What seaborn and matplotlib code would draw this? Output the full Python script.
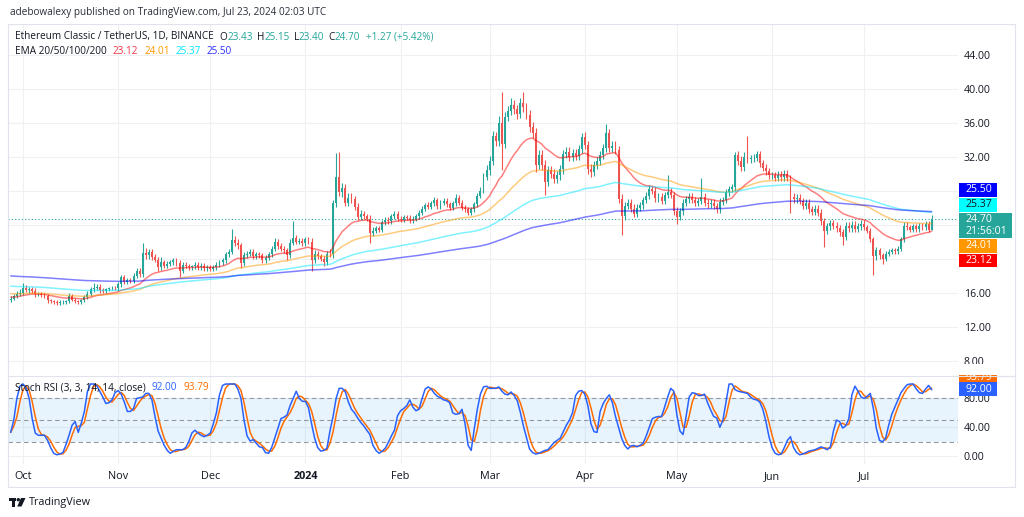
import numpy as np
import pandas as pd
import matplotlib
matplotlib.use("Agg")
import matplotlib.pyplot as plt
import matplotlib.dates as mdates
from matplotlib.patches import Rectangle, Circle, Polygon
import seaborn as sns

sns.set_style("white")
plt.rcParams["font.family"] = ["Open Sans", "DejaVu Sans"]

W, H = 1024, 517

# ── daily closes, Sep 27 2023 .. Jul 23 2024 ──
first_open = 15.2
closes = [
    15.3, 15.6, 15.9, 16.0,
    # Oct
    16.6, 16.3, 16.4, 16.2, 15.8, 15.9, 15.7, 15.6, 15.1, 15.0, 14.9, 14.8, 14.9, 14.9, 15.0, 15.6,
    15.2, 15.0, 14.9, 15.1, 15.5, 15.9, 16.4, 16.6, 16.7, 16.3, 16.2, 16.4, 16.5, 16.6, 16.5,
    # Nov
    17.0, 17.8, 17.3, 17.5, 17.4, 18.0, 18.6, 18.2, 20.7, 20.4, 20.8, 20.2, 19.9, 19.0, 19.6,
    19.2, 19.4, 19.6, 19.8, 19.5, 18.6, 19.3, 19.2, 19.0, 19.1, 19.3, 19.0, 19.2, 18.9, 19.0,
    # Dec
    18.8, 19.0, 19.3, 19.6, 19.8, 20.5, 20.8, 22.2, 21.9, 21.6, 19.5, 20.4, 20.6, 20.8, 20.3, 20.5,
    20.4, 19.8, 20.1, 20.5, 21.2, 22.0, 21.5, 21.2, 21.0, 20.4, 21.9, 22.4, 22.0, 22.1, 21.8,
    # Jan
    22.3, 22.0, 19.8, 20.6, 20.3, 20.0, 19.6, 20.6, 20.5, 26.5, 29.6, 27.8, 28.3, 26.6, 27.2, 27.0,
    26.1, 24.9, 25.3, 25.0, 24.7, 23.0, 23.3, 23.6, 23.4, 24.3, 24.6, 24.4, 25.0, 25.3, 24.7,
    # Feb
    24.6, 24.9, 24.8, 24.5, 24.7, 25.0, 25.4, 25.9, 26.3, 26.1, 26.5, 26.9, 26.2, 26.6, 26.8,
    26.4, 26.0, 26.5, 27.2, 26.6, 26.0, 25.8, 25.4, 25.8, 26.4, 27.4, 28.0, 29.6, 30.4,
    # Mar
    31.5, 34.4, 33.8, 36.0, 33.5, 36.7, 37.4, 38.1, 37.6, 37.0, 38.3, 37.8, 36.9, 35.5, 34.8, 31.0,
    32.2, 31.0, 29.0, 30.4, 30.0, 29.4, 29.8, 30.5, 32.3, 32.6, 32.0, 32.4, 32.1, 32.9, 34.3,
    # Apr
    33.4, 30.6, 30.2, 31.0, 31.5, 32.2, 33.0, 34.8, 33.0, 33.3, 32.8, 27.0, 25.0, 26.2, 26.5,
    25.9, 25.3, 26.0, 26.3, 26.9, 27.4, 28.2, 28.0, 27.1, 27.3, 26.8, 27.5, 27.9, 27.5, 25.6,
    # May
    24.9, 25.6, 26.6, 27.0, 27.3, 26.9, 26.6, 26.8, 27.3, 26.6, 26.4, 26.6, 26.2, 25.8, 26.7, 26.9,
    27.8, 28.2, 28.4, 32.2, 31.5, 30.8, 32.0, 31.7, 31.8, 31.9, 32.3, 31.2, 30.7, 30.3, 29.8,
    # Jun
    29.8, 29.5, 29.9, 29.6, 30.0, 29.5, 27.3, 27.0, 27.2, 26.8, 26.2, 26.6, 25.8, 25.5, 25.9,
    25.4, 24.4, 23.3, 23.8, 24.2, 23.9, 23.6, 23.1, 22.6, 23.9, 23.6, 24.0, 23.5, 23.8, 24.1,
    # Jul
    23.7, 23.3, 22.3, 20.3, 21.0, 20.4, 20.0, 20.6, 20.8, 21.0, 20.9, 21.2, 22.3, 23.9, 23.7,
    23.4, 23.8, 23.5, 23.9, 23.7, 24.1, 23.43, 24.70,
]

# wick lengths above / below the candle body
upper_wick = [
    0.3, 0.3, 0.3, 0.4,
    0.5, 0.3, 0.3, 0.3, 0.3, 0.2, 0.2, 0.3, 0.2, 0.2, 0.2, 0.2, 0.2, 0.2, 0.2, 0.4,
    0.3, 0.2, 0.2, 0.2, 0.2, 0.3, 0.3, 0.6, 0.3, 0.3, 0.2, 0.2, 0.2, 0.2, 0.2,
    0.3, 0.3, 0.3, 0.2, 0.2, 0.3, 0.3, 0.3, 1.1, 0.6, 0.4, 0.4, 0.3, 0.3, 0.6,
    0.3, 0.3, 0.3, 0.3, 0.3, 0.3, 0.3, 0.3, 0.2, 0.2, 0.3, 0.3, 0.3, 0.3, 0.3,
    0.3, 0.3, 0.3, 0.3, 0.3, 0.3, 0.3, 1.3, 0.5, 0.4, 0.3, 0.4, 0.3, 0.3, 0.3, 0.3,
    0.3, 0.3, 0.3, 0.3, 0.3, 0.4, 0.3, 0.3, 0.3, 0.3, 0.4, 2.0, 0.4, 0.3, 0.3,
    0.3, 0.3, 0.4, 0.4, 0.3, 0.3, 0.3, 0.3, 0.5, 0.4, 2.8, 3.0, 0.6, 0.5, 0.5, 0.5,
    0.4, 0.4, 0.4, 0.3, 0.3, 0.4, 0.4, 0.3, 0.3, 0.3, 0.3, 0.3, 0.3, 0.3, 0.3,
    0.3, 0.3, 0.3, 0.3, 0.3, 0.3, 0.3, 0.3, 0.3, 0.4, 0.3, 0.4, 0.3, 0.3, 0.3,
    0.4, 0.3, 0.3, 0.4, 0.3, 0.3, 0.3, 0.3, 0.3, 0.3, 0.3, 0.4, 0.5, 0.6,
    0.6, 0.6, 0.5, 0.8, 3.6, 0.6, 0.6, 0.8, 0.6, 0.5, 0.6, 1.3, 0.5, 0.6, 0.6, 0.6,
    0.6, 0.6, 0.6, 0.5, 0.5, 0.5, 0.5, 0.5, 0.5, 0.5, 0.5, 0.5, 0.5, 0.5, 0.5,
    0.6, 0.5, 0.5, 0.5, 0.5, 0.5, 0.5, 1.1, 0.5, 0.5, 0.5, 0.5, 0.6, 0.5, 0.5,
    0.5, 0.5, 0.4, 0.4, 0.4, 0.4, 0.5, 0.4, 0.4, 0.4, 0.4, 0.4, 2.0, 0.4, 0.4,
    0.5, 0.4, 0.4, 0.4, 0.4, 0.4, 0.4, 0.4, 2.2, 0.4, 0.4, 0.4, 0.4, 0.4, 0.4, 0.4,
    0.4, 0.4, 0.4, 0.4, 0.5, 0.6, 0.6, 2.4, 0.4, 0.4, 0.4, 0.4, 0.4, 0.4, 0.4,
    0.4, 0.4, 0.4, 0.4, 0.4, 0.4, 0.4, 0.4, 0.4, 0.4, 0.4, 0.4, 0.4, 0.4, 0.4,
    0.4, 0.4, 0.4, 0.4, 0.4, 0.4, 0.4, 0.4, 0.4, 0.4, 0.4, 0.4, 0.4, 0.4, 0.4,
    0.4, 0.3, 0.3, 0.3, 0.4, 0.3, 0.3, 0.3, 0.3, 0.3, 0.3, 0.3, 0.3, 0.4, 0.4,
    0.3, 0.3, 0.3, 0.3, 0.3, 0.3, 0.3, 0.45,
]
lower_wick = [
    0.3, 0.2, 0.2, 0.3,
    0.3, 0.2, 0.3, 0.2, 0.3, 0.2, 0.2, 0.2, 0.3, 0.2, 0.2, 0.2, 0.2, 0.2, 0.2, 0.2,
    0.2, 0.2, 0.2, 0.2, 0.2, 0.2, 0.3, 0.3, 0.3, 0.3, 0.2, 0.2, 0.2, 0.2, 0.2,
    0.3, 0.3, 0.3, 0.3, 0.3, 0.3, 0.3, 0.3, 0.3, 0.4, 0.4, 0.4, 0.3, 0.4, 0.3,
    0.3, 0.3, 0.3, 0.3, 0.3, 0.7, 0.3, 0.3, 0.3, 0.3, 0.3, 0.3, 0.3, 0.3, 0.3,
    0.3, 0.3, 0.3, 0.3, 0.3, 0.3, 0.3, 0.3, 0.4, 0.4, 0.6, 0.3, 0.3, 0.3, 0.3, 0.3,
    0.3, 0.3, 0.3, 0.3, 0.3, 0.3, 0.3, 0.3, 0.3, 0.6, 0.3, 0.3, 0.3, 0.3, 0.3,
    0.3, 0.3, 1.3, 0.3, 0.3, 0.3, 0.4, 0.3, 0.3, 0.4, 0.4, 0.4, 0.5, 0.4, 0.4, 0.4,
    0.4, 0.4, 0.3, 0.3, 0.3, 1.2, 0.3, 0.3, 0.3, 0.3, 0.3, 0.3, 0.3, 0.3, 0.3,
    0.3, 0.3, 0.3, 0.3, 0.3, 0.3, 0.3, 0.3, 0.3, 0.3, 0.3, 0.3, 0.4, 0.3, 0.3,
    0.3, 0.3, 0.3, 0.3, 0.3, 0.3, 0.3, 0.3, 0.3, 0.3, 0.3, 0.3, 0.3, 0.3,
    0.5, 0.5, 0.6, 0.5, 3.1, 0.5, 0.5, 0.5, 0.6, 0.6, 0.5, 0.6, 0.5, 0.6, 0.6, 0.8,
    0.5, 0.6, 1.5, 0.5, 0.5, 0.5, 0.5, 0.5, 0.5, 0.5, 0.5, 0.5, 0.5, 0.5, 0.5,
    0.5, 0.6, 0.6, 0.5, 0.5, 0.5, 0.5, 0.5, 0.5, 0.5, 0.5, 0.5, 2.2, 0.4, 0.4,
    0.4, 0.4, 0.4, 0.4, 0.4, 0.4, 0.4, 0.4, 0.4, 0.4, 0.4, 0.4, 0.4, 0.4, 0.5,
    0.8, 0.4, 0.4, 0.4, 0.4, 0.4, 0.4, 0.4, 0.4, 0.4, 0.4, 0.4, 0.4, 0.4, 0.4, 0.4,
    0.4, 0.4, 0.4, 0.4, 0.5, 0.5, 0.5, 0.5, 0.4, 0.4, 0.4, 0.4, 0.4, 0.4, 0.4,
    0.4, 0.4, 0.4, 0.4, 0.4, 0.4, 1.9, 0.4, 0.4, 0.4, 0.4, 0.4, 0.4, 0.4, 0.4,
    0.4, 0.4, 1.9, 0.4, 0.4, 0.4, 0.4, 0.4, 1.0, 0.4, 0.4, 0.4, 0.4, 0.4, 0.4,
    0.3, 0.3, 0.3, 2.2, 0.4, 0.4, 0.6, 0.3, 0.3, 0.3, 0.3, 0.3, 0.3, 0.3, 0.3,
    0.3, 0.3, 0.3, 0.3, 0.3, 0.3, 0.3, 0.03,
]

# Stoch RSI %K, one value per day
stoch_k = [
    33, 50, 80, 97, 100, 95, 80, 52, 32, 29,
    29, 29, 22, 12, 4, 2, 3, 5, 16, 29,
    43, 48, 33, 46, 62, 90, 100, 100, 98, 90,
    82, 73, 74, 78, 88, 91, 86, 75, 62, 62,
    66, 80, 81, 82, 87, 87, 78, 55, 35, 25,
    15, 8, 4, 7, 9, 9, 9, 12, 20, 32,
    36, 32, 29, 27, 29, 32, 45, 60, 85, 98,
    100, 100, 100, 100, 93, 80, 50, 28, 21, 23,
    18, 13, 12, 5, 4, 12, 25, 38, 52, 54,
    57, 70, 80, 90, 80, 76, 76, 67, 45, 25,
    12, 7, 8, 11, 35, 55, 80, 94, 94, 89,
    75, 65, 60, 53, 47, 42, 36, 30, 15, 8,
    4, 7, 11, 19, 28, 36, 56, 63, 66, 70,
    78, 68, 63, 65, 80, 93, 96, 93, 87, 83,
    81, 78, 77, 74, 60, 58, 59, 65, 45, 15,
    8, 38, 65, 86, 96, 97, 94, 94, 94, 96,
    90, 86, 85, 89, 84, 77, 61, 42, 26, 10,
    5, 3, 4, 6, 8, 9, 14, 19, 22, 25,
    34, 43, 50, 60, 84, 90, 91, 86, 70, 45,
    34, 33, 62, 73, 80, 85, 74, 55, 40, 25,
    15, 10, 14, 15, 13, 15, 18, 28, 40, 52,
    54, 55, 55, 68, 82, 94, 90, 57, 35, 30,
    55, 82, 88, 87, 84, 84, 86, 74, 64, 55,
    53, 40, 50, 75, 100, 100, 92, 90, 89, 88,
    87, 82, 79, 78, 75, 65, 48, 27, 12, 4,
    2, 3, 12, 22, 27, 12, 5, 2, 3, 5,
    7, 8, 9, 11, 13, 11, 9, 13, 35, 50,
    48, 39, 42, 52, 85, 97, 90, 82, 80, 83,
    87, 66, 38, 22, 20, 25, 43, 58, 68, 78,
    88, 94, 99, 100, 100, 93, 88, 87, 93, 98,
    92,
]

# EMA starting levels at the left edge of the chart
ema_spans = [20, 50, 100, 200]
ema_seeds = [15.5, 15.9, 16.8, 18.0]
ema_colors = ["#ff0000", "#ff9800", "#00e5ff", "#0000ff"]
ema_labels = ["23.12", "24.01", "25.37", "25.50"]

month_labels = ["Oct", "Nov", "Dec", "2024", "Feb", "Mar", "Apr", "May", "Jun", "Jul"]
price_ticks = list(range(8, 45, 4))
stoch_ticks = [0, 40, 80]

UP, DOWN = "#26a69a", "#ef5350"
TEXT = "#131722"

# ── derived series ──
dates = pd.date_range("2023-09-27", periods=len(closes), freq="D")
opens = [first_open] + closes[:-1]
highs = [max(o, c) + u for o, c, u in zip(opens, closes, upper_wick)]
lows = [min(o, c) - d for o, c, d in zip(opens, closes, lower_wick)]


def ema(values, span, seed):
    a = 2.0 / (span + 1)
    out, prev = [], seed
    for v in values:
        prev = a * v + (1 - a) * prev
        out.append(prev)
    return out


stoch_d = pd.Series(stoch_k, dtype=float).rolling(3, min_periods=1).mean()

fig = plt.figure(figsize=(W / 100, H / 100), dpi=100)
fig.patch.set_facecolor("white")


def px_axes(x0, y0, x1, y1):
    return fig.add_axes([x0 / W, 1 - y1 / H, (x1 - x0) / W, (y1 - y0) / H])


ax = px_axes(8, 24, 958, 375)
ast = px_axes(8, 376, 958, 464)

x0 = mdates.date2num(dates[0]) - 0.88
x1 = x0 + 309.45
months = pd.date_range("2023-10-01", "2024-07-01", freq="MS")

for a in (ax, ast):
    a.set_xlim(x0, x1)
    for s in a.spines.values():
        s.set_visible(False)
    a.set_xticks(months)
    a.grid(True, color="#eef0f4", lw=0.8)
    a.set_axisbelow(True)
    a.yaxis.tick_right()
    a.tick_params(length=0, pad=4, labelsize=7.6, labelcolor=TEXT)
    a.set_xlabel("")
    a.set_ylabel("")

# ── main pane: candles + EMAs ──
ax.set_ylim(6.32, 47.61)
ax.set_yticks(price_ticks)
ax.set_yticklabels(["" if t in (20, 24, 28) else f"{t:.2f}" for t in price_ticks])
ax.tick_params(axis="x", labelbottom=False)

o = np.array(opens)
c = np.array(closes)
col = np.where(c >= o, UP, DOWN)
ax.vlines(dates, lows, highs, colors=col, lw=0.8, zorder=3)
ax.bar(dates, np.maximum(np.abs(c - o), 0.05), bottom=np.minimum(o, c),
       width=0.62, color=col, lw=0, zorder=4)

for span, seed, colr in zip(ema_spans, ema_seeds, ema_colors):
    sns.lineplot(x=dates, y=ema(closes, span, seed), ax=ax, color=colr,
                 lw=1.1, alpha=0.5, zorder=5)
ax.axhline(closes[-1], color=UP, lw=0.8, ls=(0, (1, 2)), zorder=2)
ax.set_xlabel("")
ax.set_ylabel("")

# ── Stoch RSI pane ──
ast.set_ylim(-10.8, 111.1)
ast.set_yticks(stoch_ticks)
ast.set_yticklabels([f"{t:.2f}" for t in stoch_ticks])
ast.axhspan(20, 80, color="#2196f3", alpha=0.1, lw=0, zorder=1)
for lvl in (80, 50, 20):
    ast.axhline(lvl, color="#9598a1", lw=0.8, ls=(0, (4, 3)), zorder=2)
sns.lineplot(x=dates, y=stoch_k, ax=ast, color="#2962ff", lw=1.1, zorder=4)
sns.lineplot(x=dates, y=stoch_d.values, ax=ast, color="#ff6d00", lw=1.1, zorder=3)
ast.set_xticklabels(month_labels)
ast.tick_params(axis="x", pad=5, labelsize=7.8)
ast.get_xticklabels()[3].set_fontweight("bold")
ast.set_xlabel("")
ast.set_ylabel("")

# ── overlay: frame, legends, price tags, logo ──
ov = fig.add_axes([0, 0, 1, 1])
ov.set_xlim(0, W)
ov.set_ylim(H, 0)
ov.axis("off")
ov.patch.set_alpha(0)

ov.add_patch(Rectangle((8, 24), 1007, 463, fill=False, ec="#e0e3eb", lw=0.8))
ov.plot([8, 1015], [375.5, 375.5], color="#e0e3eb", lw=0.8)

ov.text(10, 13, "adebowalexy published on TradingView.com, Jul 23, 2024 02:03 UTC",
        fontsize=7.2, color="#2a2e39", va="center")

renderer = fig.canvas.get_renderer()


def seg_line(x, y, parts, size=7.2):
    for txt, colr, gap in parts:
        t = ov.text(x, y, txt, color=colr, fontsize=size, va="center", ha="left")
        x += t.get_window_extent(renderer).width + gap


seg_line(15, 37, [("Ethereum Classic / TetherUS, 1D, BINANCE", TEXT, 6),
                  ("O", TEXT, 0), ("23.43", UP, 4), ("H", TEXT, 0), ("25.15", UP, 4),
                  ("L", TEXT, 0), ("23.40", UP, 4), ("C", TEXT, 0), ("24.70", UP, 6),
                  ("+1.27 (+5.42%)", UP, 0)])
seg_line(15, 51, [("EMA 20/50/100/200", TEXT, 6)] +
         [(lab, colr, 6) for lab, colr in zip(ema_labels, ["#f23645", "#ff9800", "#00e5ff", "#3030ff"])])
seg_line(15, 388, [("Stoch RSI (3, 3, 14, 14, close)", TEXT, 6),
                   ("92.00", "#2962ff", 6), ("93.79", "#ff6d00", 0)])


def tag(y0, y1, colr, txt, tcol="white", x1=997):
    ov.add_patch(Rectangle((959, y0), x1 - 959, y1 - y0, color=colr, lw=0, zorder=5))
    ov.text(966, (y0 + y1) / 2, txt, color=tcol, fontsize=7.6, va="center", ha="left", zorder=6)


tag(183, 196.5, "#0000ff", ema_labels[3])
tag(197.5, 211.5, "#00ffff", ema_labels[2], tcol=TEXT)
ov.add_patch(Rectangle((959, 212.5), 53, 25.5, color=UP, lw=0, zorder=5))
ov.text(966, 219.5, "24.70", color="white", fontsize=7.6, va="center", zorder=6)
ov.text(966, 231.5, "21:56:01", color="white", fontsize=7.6, va="center", zorder=6)
tag(239, 252.5, "#ff9800", ema_labels[1])
tag(253.5, 267, "#ff0000", ema_labels[0])

tag(374, 382, "#ff6d00", "93.79")
ov.add_patch(Rectangle((958.5, 364), 45, 11, color="white", lw=0, zorder=7))
ov.plot([958, 1015], [375.5, 375.5], color="#e0e3eb", lw=0.8, zorder=8)
tag(382, 396, "#2962ff", "92.00")

# TradingView logo + name
ov.add_patch(Rectangle((8.5, 498), 7, 3, color=TEXT, lw=0))
ov.add_patch(Rectangle((12, 498), 3.2, 8.5, color=TEXT, lw=0))
ov.add_patch(Circle((18.3, 499.7), 1.7, color=TEXT, lw=0))
ov.add_patch(Polygon([(21, 498), (25.5, 498), (21.5, 506.5), (17.2, 506.5)], color=TEXT, lw=0))
ov.text(29, 502, "TradingView", fontsize=7.8, color=TEXT, va="center")

fig.savefig("out.png", dpi=100, facecolor="white")
